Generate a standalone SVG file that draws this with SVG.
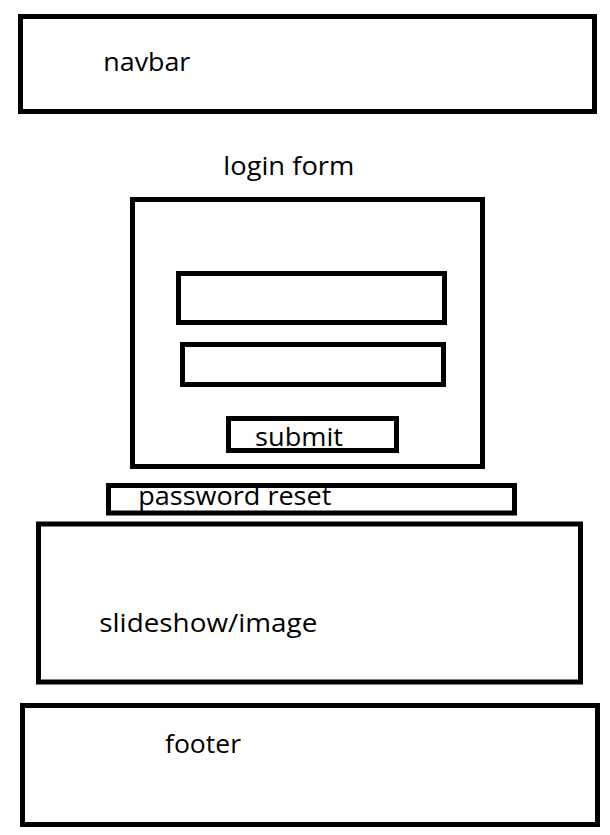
<svg xmlns="http://www.w3.org/2000/svg" width="610" height="835" viewBox="0 0 610 835">
<style>
.box{fill:none;stroke:#000;stroke-width:5}
.lbl{font-family:"Open Sans","Liberation Sans",sans-serif;font-size:26px;fill:#000}
</style>
<rect x="0" y="0" width="610" height="835" fill="#fff"/>
<g id="navbar">
<rect class="box" x="20.5" y="16.5" width="574" height="95"/>
<text class="lbl" x="103.3" y="70.7" textLength="87" lengthAdjust="spacingAndGlyphs">navbar</text>
</g>
<g id="login-title">
<text class="lbl" x="223.3" y="174.5" textLength="131" lengthAdjust="spacingAndGlyphs">login form</text>
</g>
<g id="login-form">
<rect class="box" x="132.5" y="199.5" width="350" height="267"/>
</g>
<g id="input-1">
<rect class="box" x="178.5" y="273.5" width="266" height="49"/>
</g>
<g id="input-2">
<rect class="box" x="182.5" y="344.5" width="261" height="40"/>
</g>
<g id="submit">
<rect class="box" x="228.5" y="418.5" width="168" height="32"/>
<text class="lbl" x="255" y="445.5" textLength="88" lengthAdjust="spacingAndGlyphs">submit</text>
</g>
<g id="password-reset">
<rect class="box" x="108.5" y="485.5" width="406" height="27.5"/>
<text class="lbl" x="138.3" y="505.3" textLength="193" lengthAdjust="spacingAndGlyphs">password reset</text>
</g>
<g id="slideshow">
<rect class="box" x="38.5" y="524" width="542" height="158"/>
<text class="lbl" x="99.3" y="631.7" textLength="218" lengthAdjust="spacingAndGlyphs">slideshow/image</text>
</g>
<g id="footer">
<rect class="box" x="22.5" y="705.5" width="575" height="119"/>
<text class="lbl" x="165" y="753.3" textLength="76" lengthAdjust="spacingAndGlyphs">footer</text>
</g>
<g id="connectors"></g>
</svg>
